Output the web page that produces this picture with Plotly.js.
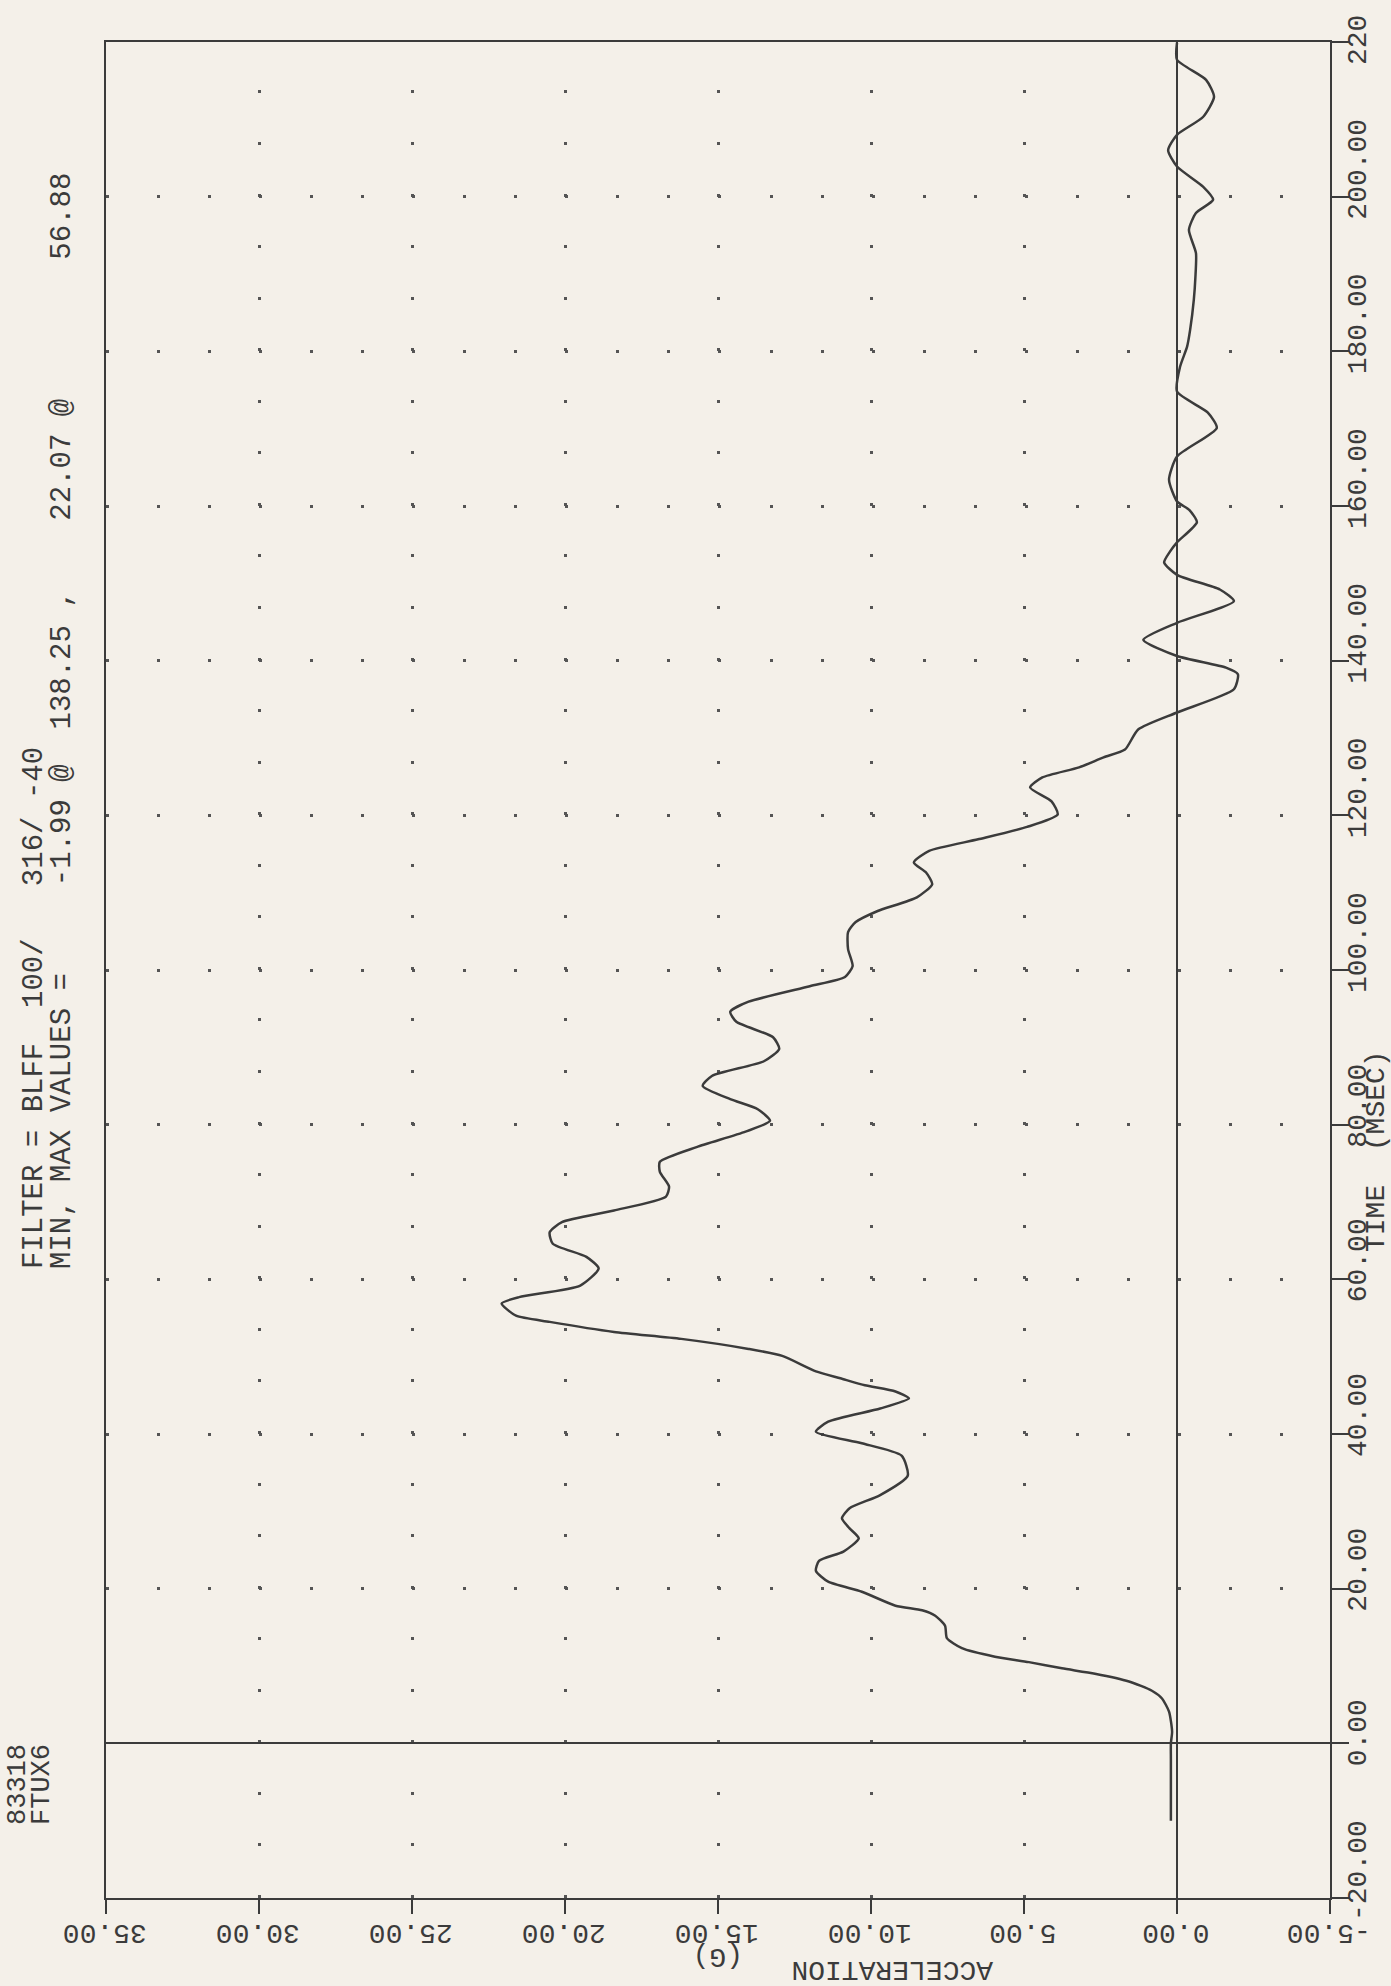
<!DOCTYPE html>
<html>
<head>
<meta charset="utf-8">
<script src="https://cdn.plot.ly/plotly-3.0.1.min.js"></script>
<style>
  html, body { margin: 0; padding: 0; width: 1391px; height: 1986px; overflow: hidden; background: #f4f0e9; }
  #plot { position: absolute; left: 0; top: 0; width: 1986px; height: 1391px;
          transform-origin: 0 0; transform: translateY(1986px) rotate(-90deg); }
</style>
</head>
<body>
<div id="plot"></div>
<script>
// ---- data ----
const timeMs = [-10, -6, -2, 0, 1.5, 4.1, 5.8, 6.8, 8.0, 9.0,
  9.7, 10.5, 11.2, 12.3, 13.6, 15.2, 16.5, 17.2, 17.8, 19.6,
  20.9, 22.3, 23.6, 24.8, 26.5, 27.8, 29.1, 30.4, 32.1, 34.6,
  37.2, 38.8, 40.3, 41.6, 43.3, 44.6, 45.5, 46.3, 47.2, 48.1,
  50.1, 51.0, 52.3, 53.2, 54.5, 55.3, 56.88, 57.7, 59.2, 61.4,
  62.9, 64.6, 66.1, 67.4, 68.9, 70.7, 72.0, 73.9, 75.2, 77.1,
  79.1, 80.5, 82.0, 83.3, 85.0, 86.3, 88.2, 89.8, 91.3, 93.3,
  94.6, 95.9, 97.9, 99.1, 100.5, 102.7, 104.9, 106.2, 107.6, 109.4,
  111.1, 112.6, 113.9, 115.4, 116.9, 118.5, 120.1, 121.8, 123.6, 124.9,
  126.2, 127.5, 128.5, 131.1, 133.3, 136.3, 138.25, 139.1, 140.6, 142.7,
  144.9, 147.7, 149.2, 151.1, 152.7, 154.1, 155.3, 157.9, 159.5, 160.6,
  163.4, 166.4, 170.1, 172.1, 174.8, 178.0, 180.6, 182.8, 186.7, 189.5,
  192.7, 195.7, 197.9, 199.6, 201.3, 203.9, 206.0, 208.0, 210.3, 212.9,
  215.1, 217.7, 219.9];
const accelG = [0.2, 0.2, 0.2, 0.2, 0.16, 0.26, 0.49, 0.82, 1.57, 2.68,
  3.76, 4.84, 5.95, 7.03, 7.52, 7.58, 7.9, 8.33, 9.2, 10.3,
  11.4, 11.8, 11.7, 10.9, 10.4, 10.7, 10.95, 10.7, 9.7, 8.8,
  9.0, 10.3, 11.8, 11.4, 9.7, 8.76, 9.2, 10.2, 11.0, 11.8,
  12.9, 14.0, 16.2, 18.4, 20.5, 21.6, 22.07, 21.5, 19.5, 18.9,
  19.3, 20.4, 20.5, 20.1, 18.4, 16.7, 16.6, 16.9, 16.9, 15.7,
  14.1, 13.3, 13.7, 14.6, 15.5, 15.2, 13.5, 13.0, 13.2, 14.4,
  14.6, 14.0, 12.0, 10.85, 10.6, 10.75, 10.75, 10.5, 9.8, 8.5,
  8.0, 8.2, 8.6, 8.1, 6.5, 4.9, 3.9, 4.1, 4.8, 4.4,
  3.2, 2.4, 1.7, 1.27, 0.0, -1.86, -1.99, -1.6, 0.0, 1.1,
  0.0, -1.86, -1.4, 0.0, 0.42, 0.23, 0.0, -0.65, -0.4, 0.0,
  0.26, 0.0, -1.3, -1.0, 0.0, -0.1, -0.33, -0.43, -0.55, -0.6,
  -0.62, -0.39, -0.62, -1.18, -0.85, 0.0, 0.29, 0.0, -0.85, -1.21,
  -0.95, 0.0, 0.0];

const timeTicks = [-20, 0, 20, 40, 60, 80, 100, 120, 140, 160, 180, 200, 220];
const timeTickText = ["-20.00", "0.00", "20.00", "40.00", "60.00", "80.00", "100.00",
  "120.00", "140.00", "160.00", "180.00", "200.00", "220"];
const accelTicks = [-5, 0, 5, 10, 15, 20, 25, 30, 35];
const accelTickText = ["-5.00", "0.00", "5.00", "10.00", "15.00", "20.00", "25.00", "30.00", "35.00"];

const idLines = ["83318", "FTUX6"];
const filterLine = "FILTER = BLFF  100/   316/ -40";
const minMaxLine = "MIN, MAX VALUES =     -1.99 @  138.25 ,    22.07 @        56.88";
const xTitle = "TIME  (MSEC)";
const yTitleMain = "ACCELERATION";
const yTitleUnit = "(G)";

// ---- layout (landscape, page rotated by CSS) ----
const W = 1986, H = 1391;
const M = { l: 88, r: 42, t: 106, b: 61 };
const PW = W - M.l - M.r, PH = H - M.t - M.b;
const px = v => (v - M.l) / PW;
const py = v => 1 - (v - M.t) / PH;
const nb = s => s.replace(/ /g, "\u00A0");

const INK = "#3b3b3b";
const FONT = "Liberation Mono, DejaVu Sans Mono, monospace";

const trace = {
  x: timeMs, y: accelG, type: "scatter", mode: "lines",
  line: { color: INK, width: 2.5, shape: "spline", smoothing: 0.6 },
  hoverinfo: "skip"
};

const ann = (text, x, y, opts) => Object.assign({
  text: nb(text), xref: "paper", yref: "paper", x: px(x), y: py(y),
  showarrow: false, xanchor: "left", yanchor: "middle",
  font: { family: FONT, size: 28, color: INK }
}, opts || {});

const layout = {
  width: W, height: H, autosize: false,
  margin: M,
  paper_bgcolor: "#f4f0e9", plot_bgcolor: "#f4f0e9",
  showlegend: false,
  font: { family: FONT, size: 28, color: INK },
  xaxis: {
    range: [-20, 220], tickmode: "array", tickvals: timeTicks, ticktext: timeTickText,
    ticks: "outside", ticklen: 17, tickwidth: 2, tickcolor: INK,
    ticklabelposition: "outside right", ticklabelshift: -25,
    showline: true, mirror: true, linecolor: INK, linewidth: 2,
    showgrid: true, gridcolor: "#555", gridwidth: 3, griddash: "3px,48.04px",
    zeroline: true, zerolinecolor: INK, zerolinewidth: 2,
    tickfont: { family: FONT, size: 28, color: INK }
  },
  yaxis: {
    range: [-5, 35], tickmode: "array", tickvals: accelTicks, ticktext: accelTickText,
    ticks: "outside", ticklen: 14, tickwidth: 2, tickcolor: INK,
    tickangle: -90, ticklabelshift: 3,
    showline: true, mirror: true, linecolor: INK, linewidth: 2,
    showgrid: true, gridcolor: "#555", gridwidth: 3, griddash: "3px,48.56px",
    zeroline: true, zerolinecolor: INK, zerolinewidth: 2,
    tickfont: { family: FONT, size: 28, color: INK }
  },
  annotations: [
    ann(idLines[0], 159, 18, { font: { family: FONT, size: 27, color: INK } }),
    ann(idLines[1], 159, 42, { font: { family: FONT, size: 27, color: INK } }),
    ann(filterLine, 715, 35, { font: { family: FONT, size: 29, color: INK } }),
    ann(minMaxLine, 715, 63, { font: { family: FONT, size: 29, color: INK } }),
    ann(xTitle, 732, 1376),
    ann(yTitleMain, 16, 892, { textangle: -90, xanchor: "center", yanchor: "middle" }),
    ann(yTitleUnit, 29, 718, { textangle: -90, xanchor: "center", yanchor: "middle" })
  ]
};

Plotly.newPlot("plot", [trace], layout, { staticPlot: true, displayModeBar: false });
</script>
</body>
</html>
